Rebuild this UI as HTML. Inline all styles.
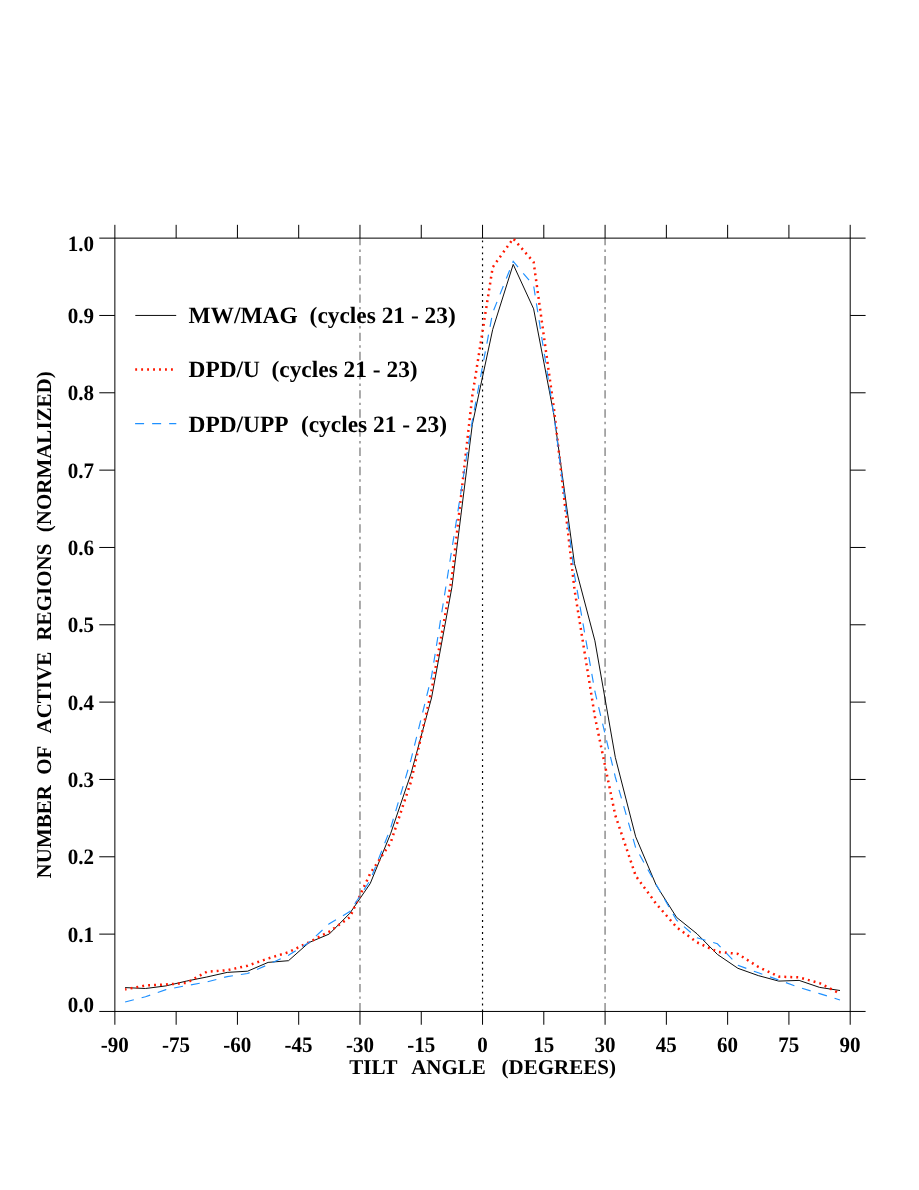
<!DOCTYPE html>
<html><head><meta charset="utf-8"><title>Tilt angle distribution</title>
<style>html,body{margin:0;padding:0;background:#fff;overflow:hidden}svg{display:block;will-change:transform}text{font-family:"Liberation Serif",serif;font-weight:bold;fill:#000;white-space:pre;text-rendering:geometricPrecision}</style></head><body>
<svg width="919" height="1190" viewBox="0 0 919 1190">
<rect width="919" height="1190" fill="#fff"/>
<line x1="359.98" y1="1011.45" x2="359.98" y2="238.13" stroke="#a2a2a2" stroke-width="1.8" stroke-dasharray="8.4 4.2 2.4 4.153"/>
<line x1="605.09" y1="1011.45" x2="605.09" y2="238.13" stroke="#a2a2a2" stroke-width="1.8" stroke-dasharray="8.4 4.2 2.4 4.153"/>
<line x1="482.53" y1="1011.45" x2="482.53" y2="238.13" stroke="#000" stroke-width="1.2" stroke-dasharray="1.9 4.062"/>
<g stroke="#000" stroke-width="1.0" fill="none">
<path d="M99.27,238.13H865.60M99.27,1011.45H865.60M114.87,224.83V1024.75M850.20,224.83V1024.75"/>
<path d="M176.15,224.83V238.13M176.15,1011.45V1024.75M237.43,224.83V238.13M237.43,1011.45V1024.75M298.70,224.83V238.13M298.70,1011.45V1024.75M359.98,224.83V238.13M359.98,1011.45V1024.75M421.26,224.83V238.13M421.26,1011.45V1024.75M482.54,224.83V238.13M482.54,1011.45V1024.75M543.81,224.83V238.13M543.81,1011.45V1024.75M605.09,224.83V238.13M605.09,1011.45V1024.75M666.37,224.83V238.13M666.37,1011.45V1024.75M727.64,224.83V238.13M727.64,1011.45V1024.75M788.92,224.83V238.13M788.92,1011.45V1024.75M99.27,315.46H114.87M850.20,315.46H865.60M99.27,392.79H114.87M850.20,392.79H865.60M99.27,470.13H114.87M850.20,470.13H865.60M99.27,547.46H114.87M850.20,547.46H865.60M99.27,624.79H114.87M850.20,624.79H865.60M99.27,702.12H114.87M850.20,702.12H865.60M99.27,779.45H114.87M850.20,779.45H865.60M99.27,856.79H114.87M850.20,856.79H865.60M99.27,934.12H114.87M850.20,934.12H865.60"/>
</g>
<polyline points="125.1,987.6 145.5,988.5 165.9,985.9 186.4,981.1 206.8,977.0 227.2,972.4 247.6,971.2 268.1,962.4 288.5,960.7 308.9,942.6 329.3,934.0 349.8,913.3 370.2,883.6 390.6,833.7 411.0,773.6 431.5,698.0 451.9,587.3 472.3,424.6 492.7,329.5 513.2,264.4 533.6,308.8 554.0,415.3 574.5,563.6 594.9,640.8 615.3,757.3 635.7,836.8 656.2,885.2 676.6,917.4 697.0,933.8 717.4,954.4 737.9,968.3 758.3,975.6 778.7,981.1 799.1,980.4 819.6,987.4 840.0,990.5" fill="none" stroke="#000" stroke-width="0.95" stroke-linejoin="round"/>
<polyline points="125.1,989.4 145.5,985.5 165.9,984.5 186.4,982.9 206.8,971.8 227.2,970.2 247.6,965.7 268.1,958.5 288.5,952.2 308.9,942.3 329.3,931.6 349.8,917.3 370.2,873.5 390.6,842.8 411.0,781.7 431.5,690.4 451.9,577.6 472.3,395.9 492.7,267.2 513.2,238.5 533.6,262.1 554.0,409.2 574.5,589.5 594.9,716.7 615.3,815.3 635.7,875.8 656.2,903.8 676.6,927.2 697.0,942.4 717.4,951.8 737.9,953.9 758.3,966.9 778.7,976.6 799.1,977.4 819.6,983.1 840.0,993.6" fill="none" stroke="#ff1800" stroke-width="2.5" stroke-dasharray="1.9 4.06" stroke-dashoffset="0.45"/>
<polyline points="125.1,1002.0 145.5,996.8 165.9,989.6 186.4,985.6 206.8,982.0 227.2,976.6 247.6,973.5 268.1,964.6 288.5,955.3 308.9,942.5 329.3,923.7 349.8,911.6 370.2,880.3 390.6,828.2 411.0,759.6 431.5,676.7 451.9,549.0 472.3,420.6 492.7,312.6 513.2,261.4 533.6,285.5 554.0,415.7 574.5,575.0 594.9,691.5 615.3,777.0 635.7,847.8 656.2,884.5 676.6,920.2 697.0,937.8 717.4,943.8 737.9,965.3 758.3,972.8 778.7,980.0 799.1,987.4 819.6,993.6 840.0,1000.0" fill="none" stroke="#1e90ff" stroke-width="1.15" stroke-dasharray="9 8.03"/>
<line x1="135.3" y1="315.45" x2="176.2" y2="315.45" stroke="#000" stroke-width="0.95"/>
<line x1="135.2" y1="369.5" x2="176.2" y2="369.5" stroke="#ff1800" stroke-width="2.5" stroke-dasharray="1.9 4.06"/>
<line x1="135.1" y1="423.6" x2="176.3" y2="423.6" stroke="#1e90ff" stroke-width="1.15" stroke-dasharray="9 8.03"/>
<g font-size="23.4" xml:space="preserve">
<text x="188.5" y="323.2">MW/MAG</text><text x="309.6" y="323.2">(cycles 21 - 23)</text>
<text x="188.5" y="377.1">DPD/U</text><text x="271.5" y="377.1">(cycles 21 - 23)</text>
<text x="188.5" y="431.8">DPD/UPP</text><text x="300.9" y="431.8">(cycles 21 - 23)</text>
</g>
<g font-size="22" text-anchor="middle">
<text transform="translate(114.8,1051.7) scale(0.955,1)">-90</text>
<text transform="translate(176.0,1051.7) scale(0.955,1)">-75</text>
<text transform="translate(237.3,1051.7) scale(0.955,1)">-60</text>
<text transform="translate(298.6,1051.7) scale(0.955,1)">-45</text>
<text transform="translate(359.9,1051.7) scale(0.955,1)">-30</text>
<text transform="translate(421.2,1051.7) scale(0.955,1)">-15</text>
<text transform="translate(482.4,1051.7) scale(0.955,1)">0</text>
<text transform="translate(543.7,1051.7) scale(0.955,1)">15</text>
<text transform="translate(605.0,1051.7) scale(0.955,1)">30</text>
<text transform="translate(666.3,1051.7) scale(0.955,1)">45</text>
<text transform="translate(727.5,1051.7) scale(0.955,1)">60</text>
<text transform="translate(788.8,1051.7) scale(0.955,1)">75</text>
<text transform="translate(850.1,1051.7) scale(0.955,1)">90</text>
</g>
<g font-size="22" text-anchor="end">
<text transform="translate(93.9,251.4) scale(0.955,1)">1.0</text>
<text transform="translate(93.9,323.1) scale(0.955,1)">0.9</text>
<text transform="translate(93.9,400.4) scale(0.955,1)">0.8</text>
<text transform="translate(93.9,477.7) scale(0.955,1)">0.7</text>
<text transform="translate(93.9,555.1) scale(0.955,1)">0.6</text>
<text transform="translate(93.9,632.4) scale(0.955,1)">0.5</text>
<text transform="translate(93.9,709.7) scale(0.955,1)">0.4</text>
<text transform="translate(93.9,787.1) scale(0.955,1)">0.3</text>
<text transform="translate(93.9,864.4) scale(0.955,1)">0.2</text>
<text transform="translate(93.9,941.7) scale(0.955,1)">0.1</text>
<text transform="translate(93.9,1012.3) scale(0.955,1)">0.0</text>
</g>
<g font-size="21" xml:space="preserve">
<text x="349.3" y="1074.4">TILT</text><text x="411.2" y="1074.4">ANGLE</text><text x="501.6" y="1074.4">(DEGREES)</text>
<text transform="translate(50.6,878.4) rotate(-90)">NUMBER  <tspan dx="-0.2">OF  </tspan><tspan dx="3.5">ACTIVE  </tspan><tspan dx="0.8">REGIONS  </tspan><tspan dx="0.9">(NORMALIZED)</tspan></text>
</g>
</svg></body></html>
